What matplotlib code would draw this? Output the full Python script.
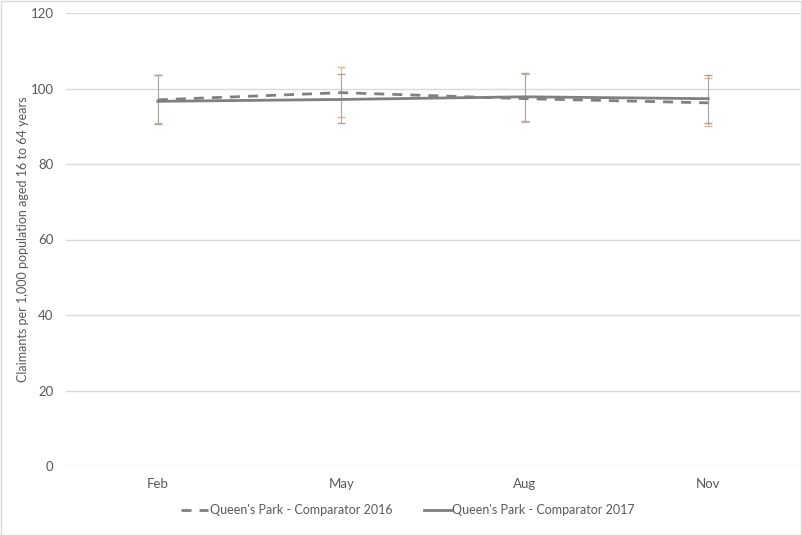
import numpy as np
import matplotlib.pyplot as plt
from matplotlib.patches import Rectangle

# Dados
months = ["Feb", "May", "Aug", "Nov"]
vals_2016 = [97.0, 98.9, 97.3, 96.2]
vals_2017 = [96.6, 97.1, 97.8, 97.3]
low_2016 = [90.8, 92.5, 91.1, 90.0]
high_2016 = [103.7, 105.6, 103.8, 102.8]
low_2017 = [90.6, 90.9, 91.5, 90.9]
high_2017 = [103.5, 103.8, 104.2, 103.7]
label_2016 = "Queen's Park - Comparator 2016"
label_2017 = "Queen's Park - Comparator 2017"

plt.rcParams['font.family'] = ['Lato', 'DejaVu Sans']

grey = "#808080"
orange = "#f4b183"
txt = "#595959"

fig = plt.figure(figsize=(8.02, 5.35), dpi=100)
ax = fig.add_axes([66/802, 69/535, 734/802, 453/535])
x = np.arange(len(months))

v16, v17 = np.array(vals_2016), np.array(vals_2017)
err16 = [v16 - np.array(low_2016), np.array(high_2016) - v16]
err17 = [v17 - np.array(low_2017), np.array(high_2017) - v17]

ax.errorbar(x, v16, yerr=err16, fmt="none", ecolor=orange, elinewidth=0.8, capsize=3, capthick=1, zorder=2)
ax.errorbar(x, v17, yerr=err17, fmt="none", ecolor="#a6a6a6", elinewidth=0.8, capsize=3, capthick=1, zorder=2)

ax.plot(x, v16, color=grey, lw=2, dashes=(3.6, 2.9), label=label_2016, zorder=3)
ax.plot(x, v17, color=grey, lw=2, label=label_2017, zorder=3)

ax.set_xlim(-0.5, len(months) - 0.5)
ax.set_ylim(0, 120)
ax.set_yticks(range(0, 121, 20))
ax.set_xticks(x)
ax.set_xticklabels(months)
ax.grid(axis="y", color="#d9d9d9", lw=1)
ax.set_axisbelow(True)
for s in ax.spines.values():
    s.set_visible(False)
ax.tick_params(length=0, colors=txt, labelsize=9.5)
ax.tick_params(axis="y", pad=9)
ax.tick_params(axis="x", pad=9)
ax.set_ylabel("Claimants per 1,000 population aged 16 to 64 years", color=txt, fontsize=9)
ax.yaxis.set_label_coords(-0.05, 0.5)

fig.legend(loc="center", bbox_to_anchor=(408/802, 1 - 510/535), ncol=2, frameon=False,
           fontsize=9, labelcolor=txt, handlelength=2.2, handletextpad=0.1, columnspacing=2.5)

fig.patches.append(Rectangle((0.5/802, 0.5/535), 1 - 1.5/802, 1 - 1.5/535, transform=fig.transFigure,
                             fill=False, edgecolor="#d9d9d9", lw=1))

plt.savefig("out.png", dpi=100)
